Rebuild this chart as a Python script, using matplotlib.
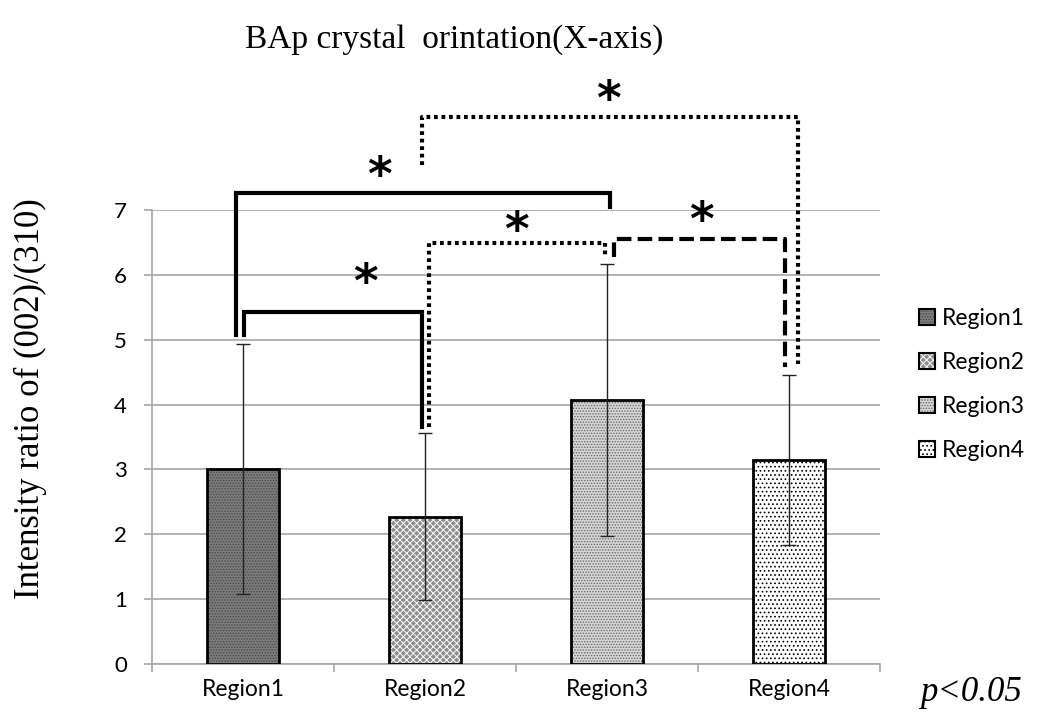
import numpy as np
import matplotlib
matplotlib.use("Agg")
import matplotlib.pyplot as plt
from matplotlib.patches import Patch
from matplotlib import rcParams

rcParams["hatch.linewidth"] = 0.7

# data
regions = ["Region1", "Region2", "Region3", "Region4"]
ratio = [3.01, 2.27, 4.07, 3.14]
ratio_sd = [1.93, 1.29, 2.09, 1.31]

# bar fills (face, hatch, hatch colour)
faces = ["#7c7c7c", "#8e8e8e", "#d6d6d6", "#ffffff"]
hatches = ["......", "xxxxx", "......", "...."]
hatch_cols = ["#4a4a4a", "#ffffff", "#6a6a6a", "#000000"]

# significance brackets: x-left, x-right, top, left-bottom, right-bottom, style, star x, star y
brackets = [
    (-0.036, 2.016, 7.26, 5.07, 7.05, "-", 0.75, 7.50),
    (0.003, 0.986, 5.43, 5.07, 3.65, "-", 0.67, 5.85),
    (0.986, 3.052, 8.43, 7.69, 4.62, ":", 2.01, 8.68),
    (1.022, 1.989, 6.49, 3.65, 6.27, ":", 1.50, 6.65),
    (2.038, 2.976, 6.55, 6.27, 4.58, "--", 2.52, 6.80),
]

sans = ["Lato", "DejaVu Sans"]
serif = ["Liberation Serif", "DejaVu Serif"]

fig = plt.figure(figsize=(10.38, 7.18), dpi=100)
ax = fig.add_axes([0.1464, 0.0752, 0.7014, 0.6323])

x = np.arange(len(regions))
ax.bar(x, ratio, width=0.4, color=faces, edgecolor=hatch_cols, hatch=hatches,
       linewidth=0, zorder=2)
ax.bar(x, ratio, width=0.4, fill=False, edgecolor="black", linewidth=2, zorder=3)
ax.errorbar(x, ratio, yerr=ratio_sd, fmt="none", ecolor="#222222",
            elinewidth=1, capsize=5, capthick=1, zorder=4)

ax.set_xlim(-0.5, 3.5)
ax.set_ylim(0, 7)
ax.set_yticks(range(0, 8))
ax.grid(axis="y", color="#a6a6a6", linewidth=1.2, zorder=0)
ax.set_axisbelow(True)
for s in ["top", "right"]:
    ax.spines[s].set_visible(False)
ax.spines["left"].set_color("#a6a6a6")
ax.spines["bottom"].set_color("#a6a6a6")
ax.spines["left"].set_linewidth(1.2)
ax.spines["bottom"].set_linewidth(1.2)
ax.set_xticks(x)
ax.set_xticklabels(regions, fontsize=16.5, family=sans)
ax.set_xticks(np.arange(-0.5, 4, 1), minor=True)
ax.tick_params(axis="x", which="major", length=0, pad=11)
ax.tick_params(axis="x", which="minor", length=6, color="#a6a6a6", width=1.2)
ax.tick_params(axis="y", length=6, color="#a6a6a6", width=1.2, labelsize=16, pad=12)
for lab in ax.get_yticklabels():
    lab.set_family(sans)

for xl, xr, top, yl, yr, ls, sx, sy in brackets:
    line, = ax.plot([xl, xl, xr, xr], [yl, top, top, yr], color="black",
                    linewidth=3, clip_on=False, zorder=5, solid_joinstyle="miter")
    if ls == ":":
        line.set_dashes((0.9, 0.9))
    elif ls == "--":
        line.set_dashes((3.5, 1.5))
    ax.text(sx, sy, "*", fontsize=34, fontweight="bold", ha="center", va="center",
            family="DejaVu Sans", clip_on=False)

handles = []
for f, h, hc in zip(faces, hatches, hatch_cols):
    handles.append((Patch(facecolor=f, hatch=h, edgecolor=hc, linewidth=0),
                    Patch(fill=False, edgecolor="black", linewidth=1.5)))
leg = ax.legend(handles, regions, loc="upper left", bbox_to_anchor=(1.025, 0.83),
                frameon=False, handlelength=0.7, handleheight=0.7, handletextpad=0.3,
                labelspacing=1.0, prop={"family": sans, "size": 16.5})

fig.text(0.438, 0.945, "BAp crystal  orintation(X-axis)", ha="center", va="center",
         fontsize=24, family=serif)
fig.text(0.029, 0.445, "Intensity ratio of (002)/(310)", ha="center", va="center",
         rotation=90, fontsize=25, family=serif)
fig.text(0.935, 0.035, "p<0.05", ha="center", va="center", fontsize=25,
         family=serif, style="italic")

fig.savefig("out.png", dpi=100)
